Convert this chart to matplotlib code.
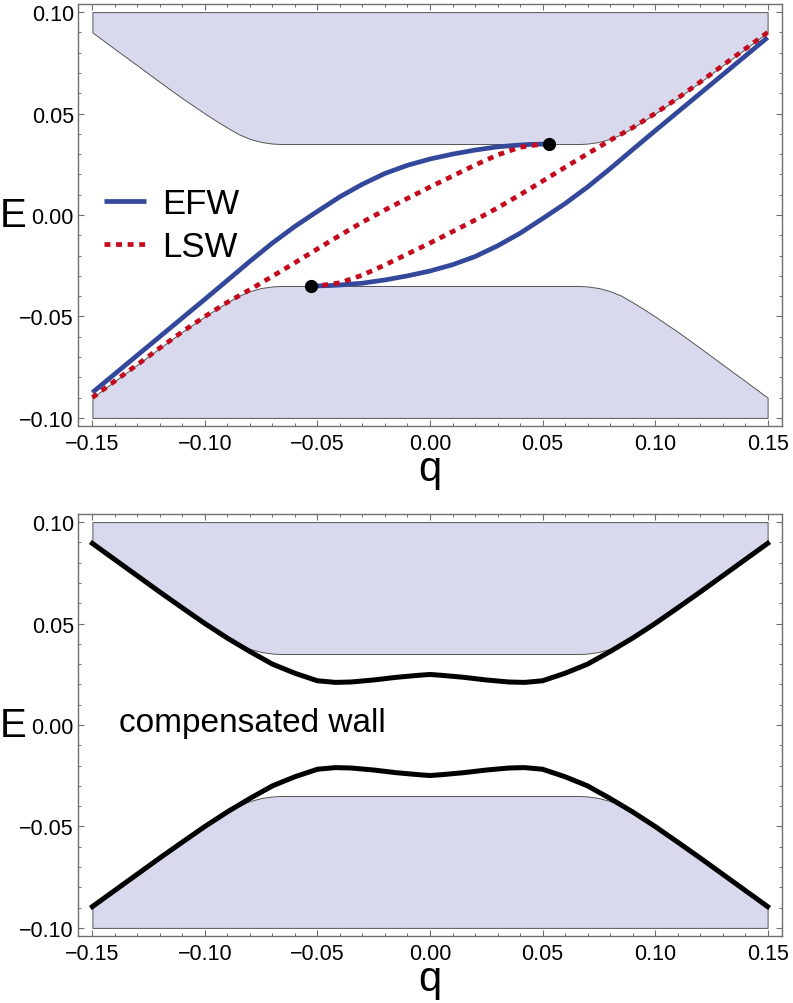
import matplotlib
matplotlib.use("Agg")
import matplotlib.pyplot as plt
from matplotlib.ticker import FixedLocator, FixedFormatter, MultipleLocator
from matplotlib.lines import Line2D

plt.rcParams['font.family'] = ['Liberation Sans', 'DejaVu Sans']

# ---------------- data ----------------
# bulk band edges (shaded regions)
BAND_Q = [-0.15, -0.14, -0.13, -0.12, -0.11, -0.10, -0.095, -0.09, -0.085, -0.08,
          -0.075, -0.07, -0.0667, 0.0667, 0.07, 0.075, 0.08, 0.085, 0.09, 0.095,
          0.10, 0.11, 0.12, 0.13, 0.14, 0.15]
UPPER_BAND_EDGE = [0.0900, 0.0818, 0.0737, 0.0655, 0.0575, 0.0500, 0.0464, 0.0430, 0.0398, 0.0375,
                   0.0360, 0.0352, 0.0350, 0.0350, 0.0352, 0.0360, 0.0375, 0.0398, 0.0430, 0.0464,
                   0.0500, 0.0575, 0.0655, 0.0737, 0.0818, 0.0900]
LOWER_BAND_EDGE = [-0.0900, -0.0818, -0.0737, -0.0655, -0.0575, -0.0500, -0.0464, -0.0430, -0.0398, -0.0375,
                   -0.0360, -0.0352, -0.0350, -0.0350, -0.0352, -0.0360, -0.0375, -0.0398, -0.0430, -0.0464,
                   -0.0500, -0.0575, -0.0655, -0.0737, -0.0818, -0.0900]
BAND_TOP = 0.10
BAND_BOTTOM = -0.10

# EFW branches (top panel)
EFW1_Q = [-0.15, -0.125, -0.10, -0.09, -0.08, -0.07, -0.06, -0.05, -0.04, -0.03,
          -0.02, -0.01, 0.0, 0.01, 0.02, 0.03, 0.04, 0.045, 0.053]
EFW1_E = [-0.0875, -0.0645, -0.0415, -0.0322, -0.0228, -0.0138, -0.0056, 0.0018, 0.0090, 0.0152,
          0.0205, 0.0245, 0.0276, 0.0300, 0.0320, 0.0336, 0.0345, 0.0348, 0.0350]
EFW2_Q = [-0.053, -0.045, -0.04, -0.03, -0.02, -0.01, 0.0, 0.01, 0.02, 0.03,
          0.04, 0.05, 0.06, 0.07, 0.08, 0.09, 0.10, 0.125, 0.15]
EFW2_E = [-0.0350, -0.0348, -0.0345, -0.0336, -0.0320, -0.0300, -0.0276, -0.0245, -0.0205, -0.0152,
          -0.0090, -0.0018, 0.0056, 0.0138, 0.0228, 0.0322, 0.0415, 0.0645, 0.0875]

# LSW branches (top panel)
LSW1_Q = [-0.15, -0.14, -0.13, -0.12, -0.11, -0.10, -0.09, -0.08, -0.07, -0.06, -0.05,
          -0.04, -0.03, -0.02, -0.01, 0.0, 0.01, 0.02, 0.03, 0.04, 0.047, 0.053]
LSW1_E = [-0.0900, -0.0818, -0.0737, -0.0655, -0.0575, -0.0500, -0.0430, -0.0368, -0.0302, -0.0235, -0.0167,
          -0.0100, -0.0035, 0.0025, 0.0082, 0.0138, 0.0192, 0.0246, 0.0296, 0.0334, 0.0345, 0.0350]
LSW2_Q = [-0.053, -0.047, -0.04, -0.03, -0.02, -0.01, 0.0, 0.01, 0.02, 0.03, 0.04,
          0.05, 0.06, 0.07, 0.08, 0.09, 0.10, 0.11, 0.12, 0.13, 0.14, 0.15]
LSW2_E = [-0.0350, -0.0345, -0.0334, -0.0296, -0.0246, -0.0192, -0.0138, -0.0082, -0.0025, 0.0035, 0.0100,
          0.0167, 0.0235, 0.0302, 0.0368, 0.0430, 0.0500, 0.0575, 0.0655, 0.0737, 0.0818, 0.0900]

# end points (black dots)
DOT_Q = [0.053, -0.053]
DOT_E = [0.035, -0.035]

# compensated wall (bottom panel)
CW_Q = [-0.15, -0.14, -0.13, -0.12, -0.11, -0.10, -0.09, -0.08, -0.07, -0.06, -0.05,
        -0.042, -0.035, -0.025, -0.015, -0.005, 0.0, 0.005, 0.015, 0.025, 0.035, 0.042,
        0.05, 0.06, 0.07, 0.08, 0.09, 0.10, 0.11, 0.12, 0.13, 0.14, 0.15]
CW_UPPER = [0.0895, 0.0815, 0.0735, 0.0655, 0.0577, 0.0500, 0.0428, 0.0362, 0.0300, 0.0255, 0.0218,
            0.0210, 0.0212, 0.0222, 0.0235, 0.0245, 0.0249, 0.0245, 0.0235, 0.0222, 0.0212, 0.0210,
            0.0218, 0.0255, 0.0300, 0.0362, 0.0428, 0.0500, 0.0577, 0.0655, 0.0735, 0.0815, 0.0895]
CW_LOWER = [-0.0895, -0.0815, -0.0735, -0.0655, -0.0577, -0.0500, -0.0428, -0.0362, -0.0300, -0.0255, -0.0218,
            -0.0210, -0.0212, -0.0222, -0.0235, -0.0245, -0.0249, -0.0245, -0.0235, -0.0222, -0.0212, -0.0210,
            -0.0218, -0.0255, -0.0300, -0.0362, -0.0428, -0.0500, -0.0577, -0.0655, -0.0735, -0.0815, -0.0895]

X_TICKS = [-0.15, -0.10, -0.05, 0.00, 0.05, 0.10, 0.15]
X_TICKLABELS = ['\u22120.15', '\u22120.10', '\u22120.05', '0.00', '0.05', '0.10', '0.15']
Y_TICKS = [-0.10, -0.05, 0.00, 0.05, 0.10]
Y_TICKLABELS = ['\u22120.10', '\u22120.05', '0.00', '0.05', '0.10']

LEGEND_LABELS = ['EFW', 'LSW']
TEXT_BOTTOM = 'compensated wall'

# ---------------- style ----------------
BAND_FACE = '#d8d9ed'
BAND_EDGE = '#555555'
FRAME = '#6e6e6e'
BLUE = '#33489b'
RED = '#c40a1c'

fig = plt.figure(figsize=(7.93, 10.04), dpi=100)
W, H = 793.0, 1004.0
ax1 = fig.add_axes([78 / W, 1 - 427 / H, 704 / W, 422 / H])
ax2 = fig.add_axes([78 / W, 1 - 937 / H, 704 / W, 422 / H])


def style_axes(ax):
    ax.set_xlim(-0.1564, 0.1564)
    ax.set_ylim(-0.104, 0.104)
    ax.xaxis.set_major_locator(FixedLocator(X_TICKS))
    ax.xaxis.set_major_formatter(FixedFormatter(X_TICKLABELS))
    ax.yaxis.set_major_locator(FixedLocator(Y_TICKS))
    ax.yaxis.set_major_formatter(FixedFormatter(Y_TICKLABELS))
    ax.xaxis.set_minor_locator(MultipleLocator(0.01))
    ax.yaxis.set_minor_locator(MultipleLocator(0.01))
    ax.tick_params(which='both', direction='in', top=True, right=True,
                   color=FRAME, labelcolor='black', labelsize=15.5)
    ax.tick_params(which='major', length=4, width=0.8)
    ax.tick_params(which='minor', length=2.3, width=0.7)
    ax.tick_params(axis='x', which='major', pad=5)
    ax.tick_params(axis='y', which='major', pad=3)
    for s in ax.spines.values():
        s.set_color(FRAME)
        s.set_linewidth(1.0)
    ax.fill_between(BAND_Q, UPPER_BAND_EDGE, BAND_TOP, facecolor=BAND_FACE,
                    edgecolor=BAND_EDGE, linewidth=0.7, zorder=1)
    ax.fill_between(BAND_Q, BAND_BOTTOM, LOWER_BAND_EDGE, facecolor=BAND_FACE,
                    edgecolor=BAND_EDGE, linewidth=0.7, zorder=1)
    ax.set_xlabel('q', fontsize=30)
    ax.xaxis.set_label_coords(0.5, -0.055)
    ax.xaxis.label.set_va('top')
    ax.set_ylabel('E', fontsize=29, rotation=0)
    ax.yaxis.set_label_coords(-0.111, 0.5)
    ax.yaxis.label.set_ha('left')
    ax.yaxis.label.set_va('center')


style_axes(ax1)
style_axes(ax2)

# top panel curves
dots = (0, (1.25, 1.2))
ax1.plot(EFW1_Q, EFW1_E, color=BLUE, lw=3.4, solid_capstyle='butt', zorder=3)
ax1.plot(EFW2_Q, EFW2_E, color=BLUE, lw=3.4, solid_capstyle='butt', zorder=3)
ax1.plot(LSW1_Q, LSW1_E, color=RED, lw=3.4, linestyle=dots, dash_capstyle='butt', zorder=4)
ax1.plot(LSW2_Q, LSW2_E, color=RED, lw=3.4, linestyle=dots, dash_capstyle='butt', zorder=4)
ax1.plot(DOT_Q, DOT_E, 'o', color='black', markersize=8.5, linestyle='none', zorder=5)

handles = [Line2D([], [], color=BLUE, lw=3.4, solid_capstyle='butt'),
           Line2D([], [], color=RED, lw=3.4, linestyle=dots, dash_capstyle='butt')]
ax1.legend(handles, LEGEND_LABELS, loc='center left', bbox_to_anchor=(0.037, 0.476),
           frameon=False, borderpad=0, borderaxespad=0, fontsize=25,
           handlelength=1.22, handletextpad=0.45, labelspacing=0.3)

# bottom panel curves
ax2.plot(CW_Q, CW_UPPER, color='black', lw=3.6, zorder=3)
ax2.plot(CW_Q, CW_LOWER, color='black', lw=3.6, zorder=3)
ax2.text(-0.138, -0.0032, TEXT_BOTTOM, fontsize=24, ha='left', va='baseline', zorder=4)

fig.savefig('out.png', dpi=100)
